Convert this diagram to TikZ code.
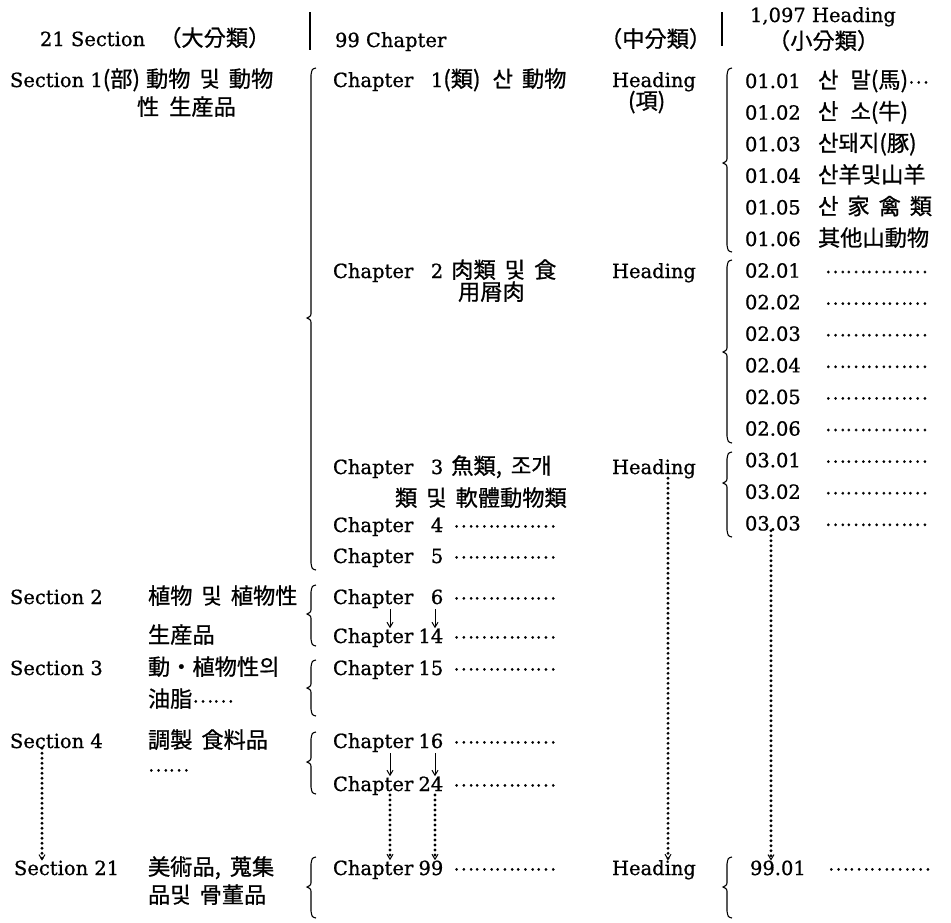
\documentclass[tikz,border=0pt]{standalone}
\usepackage{fontspec}
\setmainfont{DejaVu Serif}[FakeBold=0.8]
\newfontfamily\cjk{Noto Sans CJK KR}[Scale=1.14, WordSpace=1.8, FakeBold=0.8]
\usetikzlibrary{arrows.meta}
\newcommand\kk[1]{{\cjk #1}}
\newcommand\chap[1]{Chapter\makebox[30pt][r]{#1}}
\newcommand\ldr{\raisebox{4.5pt}{\cjk\fontsize{17}{20}\selectfont ⋯⋯⋯⋯⋯}}
\newcommand\sdr[1]{\raisebox{4.5pt}{\cjk\fontsize{17}{20}\selectfont #1}}
\newcommand\mybrace[4]{%
  \draw[br] (#1+5,#2) .. controls (#1+1,#2+1) .. (#1,#2+7) -- (#1,#3-6)
    .. controls (#1,#3-2) .. (#1-4,#3) .. controls (#1,#3+2) .. (#1,#3+6)
    -- (#1,#4-7) .. controls (#1+1,#4-1) .. (#1+5,#4);}
\begin{document}
\begin{tikzpicture}[x=1pt,y=-1pt,
  tx/.style={anchor=base west, inner sep=0pt, outer sep=0pt, font=\fontsize{19.5}{23}\selectfont},
  br/.style={line width=1.1pt},
  arr/.style={line width=1pt, shorten <=1pt, -{Straight Barb[length=5pt,width=6pt]}},
  dotarr/.style={line width=3.2pt, line cap=round, dash pattern=on 0pt off 5pt,
    -{Straight Barb[length=5pt,width=6pt,line width=1pt]}}]
\fill[white] (0,0) rectangle (951,922);
\useasboundingbox (0,0) rectangle (951,922);
% header
\node[tx] (hsec) at (40,46) {21 Section\hspace{14pt}\kk{（大分類）}};
\node[tx] (hchap) at (335,47) {99 Chapter};
\node[tx] (hmid) at (600,47) {\kk{（中分類）}};
\node[tx] (hhead) at (750,22) {1,097 Heading};
\node[tx] (hsmall) at (768,49) {\kk{（小分類）}};
\draw[br] (310,12) -- (310,50);
\draw[br] (722,12) -- (722,46);
% sections
\node[tx] (s1) at (10,87) {Section 1\kk{(部)\hspace{6pt}動物 및 動物}};
\node[tx] (s1b) at (137,115) {\kk{性\hspace{10pt}生産品}};
\node[tx] (s2) at (10,604) {Section 2};
\node[tx] (s2t) at (148,604) {\kk{植物 및 植物性}};
\node[tx] (s2b) at (148,643) {\kk{生産品}};
\node[tx] (s3) at (10,675) {Section 3};
\node[tx] (s3t) at (148,675) {\kk{動・植物性의}};
\node[tx] (s3b) at (148,707) {\kk{油脂}\sdr{⋯⋯}};
\node[tx] (s4) at (10,748) {Section 4};
\node[tx] (s4t) at (148,748) {\kk{調製 食料品}};
\node[tx] (s4b) at (148,776) {\sdr{⋯⋯}};
\node[tx] (s21) at (14,875) {Section 21};
\node[tx] (s21t) at (148,875) {\kk{美術品, 蒐集}};
\node[tx] (s21b) at (148,903) {\kk{品및 骨董品}};
% chapters
\node[tx] (c1) at (333,87) {\chap{1}\kk{(類)}\hspace{12pt}\kk{산 動物}};
\node[tx] (c2) at (333,278) {\chap{2}\hspace{8pt}\kk{肉類 및 食}};
\node[tx] (c2b) at (458,300) {\kk{用屑肉}};
\node[tx] (c3) at (333,474) {\chap{3}\hspace{8pt}\kk{魚類, 조개}};
\node[tx] (c3b) at (395,506) {\kk{類 및 軟體動物類}};
\node[tx] (c4) at (333,532) {\chap{4}\hspace{10pt}\ldr};
\node[tx] (c5) at (333,563) {\chap{5}\hspace{10pt}\ldr};
\node[tx] (c6) at (333,604) {\chap{6}\hspace{10pt}\ldr};
\node[tx] (c14) at (333,643) {\chap{14}\hspace{10pt}\ldr};
\node[tx] (c15) at (333,675) {\chap{15}\hspace{10pt}\ldr};
\node[tx] (c16) at (333,748) {\chap{16}\hspace{10pt}\ldr};
\node[tx] (c24) at (333,791) {\chap{24}\hspace{10pt}\ldr};
\node[tx] (c99) at (333,875) {\chap{99}\hspace{10pt}\ldr};
% headings
\node[tx] (hd1) at (612,87) {Heading};
\node[tx] (hd1b) at (628,109) {\kk{(項)}};
\node[tx] (hd2) at (612,278) {Heading};
\node[tx] (hd3) at (612,474) {Heading};
\node[tx] (hd99) at (612,875) {Heading};
% items
\node[tx] (n0101) at (745,88) {01.01};
\node[tx] (t0101) at (818,88) {\kk{산\hspace{12pt}말(馬)}\sdr{⋯}};
\node[tx] (n0102) at (745,119.6) {01.02};
\node[tx] (t0102) at (818,119.6) {\kk{산\hspace{12pt}소(牛)}};
\node[tx] (n0103) at (745,151.2) {01.03};
\node[tx] (t0103) at (818,151.2) {\kk{산돼지(豚)}};
\node[tx] (n0104) at (745,182.8) {01.04};
\node[tx] (t0104) at (818,182.8) {\kk{산羊및山羊}};
\node[tx] (n0105) at (745,214.4) {01.05};
\node[tx] (t0105) at (818,214.4) {\kk{산 家 禽 類}};
\node[tx] (n0106) at (745,246) {01.06};
\node[tx] (t0106) at (818,246) {\kk{其他山動物}};
\node[tx] (n0201) at (745,277.6) {02.01};
\node[tx] (t0201) at (825,277.6) {\ldr};
\node[tx] (n0202) at (745,309.2) {02.02};
\node[tx] (t0202) at (825,309.2) {\ldr};
\node[tx] (n0203) at (745,340.8) {02.03};
\node[tx] (t0203) at (825,340.8) {\ldr};
\node[tx] (n0204) at (745,372.4) {02.04};
\node[tx] (t0204) at (825,372.4) {\ldr};
\node[tx] (n0205) at (745,404) {02.05};
\node[tx] (t0205) at (825,404) {\ldr};
\node[tx] (n0206) at (745,435.6) {02.06};
\node[tx] (t0206) at (825,435.6) {\ldr};
\node[tx] (n0301) at (745,467.2) {03.01};
\node[tx] (t0301) at (825,467.2) {\ldr};
\node[tx] (n0302) at (745,498.8) {03.02};
\node[tx] (t0302) at (825,498.8) {\ldr};
\node[tx] (n0303) at (745,530.4) {03.03};
\node[tx] (t0303) at (825,530.4) {\ldr};
\node[tx] (n9901) at (750,875) {99.01};
\node[tx] (t9901) at (828,875) {\ldr};
% braces
\mybrace{311}{68}{318}{570}
\mybrace{311}{585}{614}{646}
\mybrace{311}{660}{688}{716}
\mybrace{311}{732}{762}{794}
\mybrace{311}{857}{887}{918}
\mybrace{727}{68}{163}{252}
\mybrace{727}{260}{352}{443}
\mybrace{727}{452}{483}{537}
\mybrace{727}{857}{887}{918}
% arrow columns
\coordinate (xa) at (390,0);
\coordinate (xb) at (435,0);
\coordinate (xs) at (42,0);
\coordinate (xh) at (668,0);
\coordinate (xn) at (771,0);
\draw[arr] (c6.south -| xa) -- (c14.north -| xa);
\draw[arr] (c6.south -| xb) -- (c14.north -| xb);
\draw[arr] (c16.south -| xa) -- (c24.north -| xa);
\draw[arr] (c16.south -| xb) -- (c24.north -| xb);
\draw[dotarr] (c24.south -| xa) -- (c99.north -| xa);
\draw[dotarr] (c24.south -| xb) -- (c99.north -| xb);
\draw[dotarr] (s4.south -| xs) -- (s21.north -| xs);
\draw[dotarr] (hd3.south -| xh) -- (hd99.north -| xh);
\draw[dotarr] (n0303.south -| xn) -- (n9901.north -| xn);
\end{tikzpicture}
\end{document}
